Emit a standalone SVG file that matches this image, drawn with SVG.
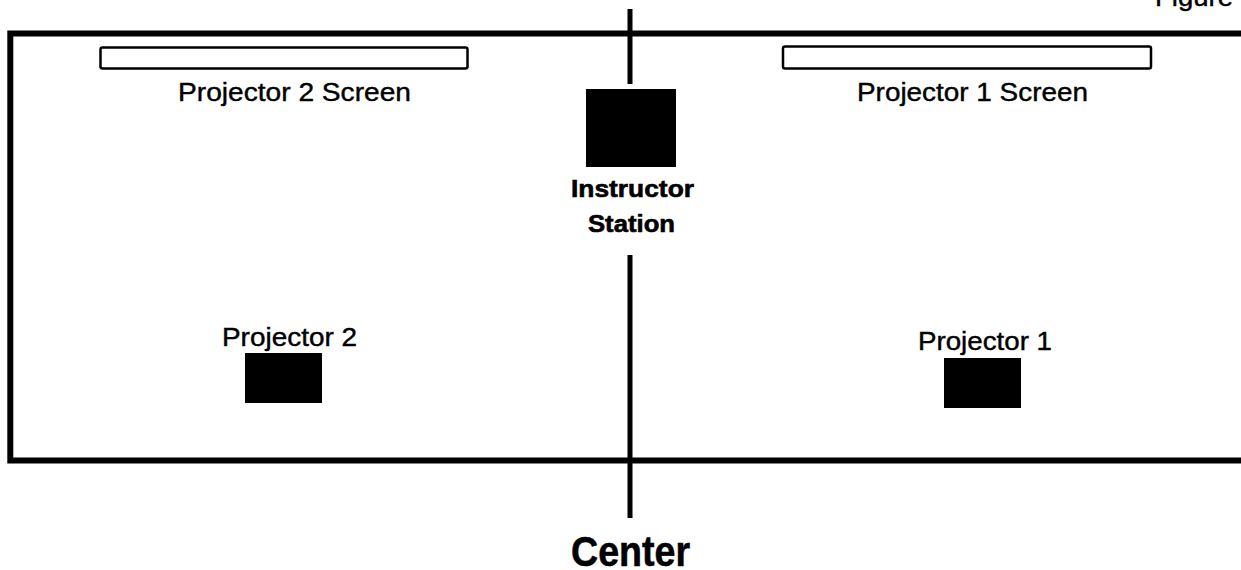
<svg xmlns="http://www.w3.org/2000/svg" width="1241" height="570" viewBox="0 0 1241 570">
<style>
.lbl{font-family:"Liberation Sans",Arial,sans-serif;font-size:25px;fill:#000;stroke:#000;stroke-width:0.4}
.bold{font-family:"Liberation Sans",Arial,sans-serif;font-weight:bold;fill:#000;stroke:#000;stroke-width:0.6}
.screen{fill:#fff;stroke:#000;stroke-width:2.5}
.dev{fill:#000}
.wall{fill:none;stroke:#000;stroke-width:6}
.axis{stroke:#000;stroke-width:5;fill:none}
</style>
<rect width="1241" height="570" fill="#fff"/>
<text class="lbl" x="1155" y="6" textLength="78" lengthAdjust="spacingAndGlyphs">Figure</text>
<g id="room">
<path class="wall" d="M1245 33.5 H10.3 V460.5 H1245"/>
</g>
<g id="connectors">
<line class="axis" x1="630" y1="9" x2="630" y2="84"/>
<line class="axis" x1="630" y1="255" x2="630" y2="518"/>
</g>
<g id="projector2-screen">
<rect class="screen" x="100.5" y="47.5" width="367" height="21" rx="2"/>
<text class="lbl" x="178" y="101" textLength="233" lengthAdjust="spacingAndGlyphs">Projector 2 Screen</text>
</g>
<g id="projector1-screen">
<rect class="screen" x="783" y="46.5" width="368" height="22" rx="2"/>
<text class="lbl" x="857" y="101" textLength="231" lengthAdjust="spacingAndGlyphs">Projector 1 Screen</text>
</g>
<g id="instructor-station">
<rect class="dev" x="586" y="89" width="90" height="78"/>
<text class="bold" x="571" y="197" font-size="24" textLength="123" lengthAdjust="spacingAndGlyphs">Instructor</text>
<text class="bold" x="588" y="232" font-size="24" textLength="87" lengthAdjust="spacingAndGlyphs">Station</text>
</g>
<g id="projector2">
<text class="lbl" x="222" y="346" textLength="135" lengthAdjust="spacingAndGlyphs">Projector 2</text>
<rect class="dev" x="245" y="353" width="77" height="50"/>
</g>
<g id="projector1">
<text class="lbl" x="918" y="350" textLength="134" lengthAdjust="spacingAndGlyphs">Projector 1</text>
<rect class="dev" x="944" y="358" width="77" height="50"/>
</g>
<g id="center-label">
<text class="bold" x="571" y="566" font-size="43" textLength="119" lengthAdjust="spacingAndGlyphs">Center</text>
</g>
</svg>
